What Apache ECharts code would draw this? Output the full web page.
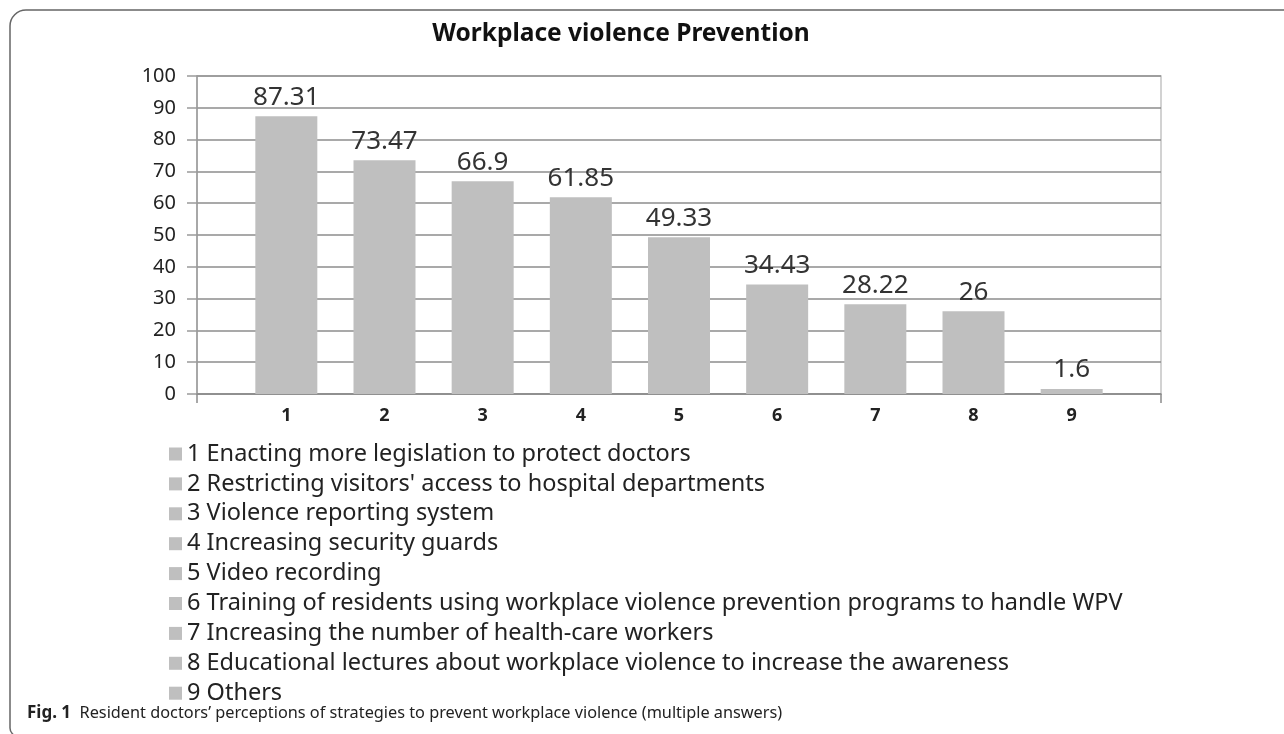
<!DOCTYPE html>
<html>
<head>
<meta charset="UTF-8">
<title>Workplace violence Prevention</title>
<script src="https://cdn.jsdelivr.net/npm/echarts@6/dist/echarts.min.js"></script>
<style>
  html, body { margin: 0; padding: 0; background: #fff; }
  #main { width: 1284px; height: 734px; }
</style>
</head>
<body>
<div id="main"></div>
<script>
// data
var categories = ['1', '2', '3', '4', '5', '6', '7', '8', '9'];
var values = [87.31, 73.47, 66.9, 61.85, 49.33, 34.43, 28.22, 26, 1.6];
var strategies = [
    '1 Enacting more legislation to protect doctors',
    "2 Restricting visitors' access to hospital departments",
    '3 Violence reporting system',
    '4 Increasing security guards',
    '5 Video recording',
    '6 Training of residents using workplace violence prevention programs to handle WPV',
    '7 Increasing the number of health-care workers',
    '8 Educational lectures about workplace violence to increase the awareness',
    '9 Others'
];
var yTicks = [0, 10, 20, 30, 40, 50, 60, 70, 80, 90, 100];

var FONT = '"Noto Sans", "DejaVu Sans", sans-serif';
var barColor = '#bfbfbf';

var myChart = echarts.init(document.getElementById('main'));

// one series per strategy so each gets its own legend line
var series = categories.map(function (c, i) {
    return {
        name: strategies[i],
        type: 'bar',
        barWidth: 62,
        barGap: '-100%',
        itemStyle: { color: barColor },
        label: {
            show: true,
            position: 'top',
            distance: 6,
            fontFamily: FONT,
            fontSize: 26,
            color: '#333'
        },
        data: [[i + 1, values[i]]]
    };
});

var option = {
    animation: false,
    title: [{
        text: 'Workplace violence Prevention',
        left: 616,
        top: 17,
        textAlign: 'center',
        textStyle: { fontFamily: FONT, fontSize: 24.5, fontWeight: 'bold', color: '#111' }
    }, {
        text: '{b|Fig. 1}  Resident doctors\u2019 perceptions of strategies to prevent workplace violence (multiple answers)',
        left: 27,
        top: 705,
        padding: 0,
        textStyle: {
            fontFamily: FONT, fontSize: 16.3, color: '#222', fontWeight: 'normal',
            rich: { b: { fontFamily: FONT, fontSize: 17, fontWeight: 'bold', color: '#222' } }
        }
    }],
    legend: {
        orient: 'vertical',
        left: 169,
        top: 442,
        padding: 0,
        icon: 'rect',
        itemWidth: 13,
        itemHeight: 13,
        itemGap: 5.9,
        textStyle: { fontFamily: FONT, fontSize: 23.5, lineHeight: 23.5, color: '#222' },
        selectedMode: false,
        data: strategies
    },
    grid: {
        left: 197,
        right: 123,
        top: 76,
        bottom: 340,
        show: true,
        borderColor: '#c4c4c4',
        borderWidth: 1.5
    },
    xAxis: {
        type: 'value',
        min: 0.09,
        max: 9.91,
        splitLine: { show: false },
        axisLine: { lineStyle: { color: '#8c8c8c', width: 1.5 } },
        axisTick: { show: true, customValues: [0.09, 9.91], length: 9, lineStyle: { color: '#8c8c8c', width: 1.5 } },
        axisLabel: {
            customValues: [1, 2, 3, 4, 5, 6, 7, 8, 9],
            formatter: function (v) { return categories[Math.round(v) - 1]; },
            margin: 13,
            fontFamily: FONT,
            fontSize: 18,
            fontWeight: 'bold',
            color: '#222'
        }
    },
    yAxis: {
        type: 'value',
        min: yTicks[0],
        max: yTicks[yTicks.length - 1],
        interval: 10,
        axisLine: { show: true, lineStyle: { color: '#9a9a9a', width: 1.5 } },
        axisTick: { show: true, length: 10, lineStyle: { color: '#9a9a9a', width: 1.5 } },
        splitLine: { lineStyle: { color: '#8c8c8c', width: 1.5 } },
        axisLabel: { margin: 21, fontFamily: FONT, fontSize: 20, color: '#222' }
    },
    graphic: [{
        type: 'rect',
        silent: true,
        shape: { x: 10, y: 10, width: 1300, height: 726, r: [16, 0, 0, 8] },
        style: { fill: 'none', stroke: '#666', lineWidth: 1.5 }
    }],
    series: series
};

myChart.setOption(option);
</script>
</body>
</html>
